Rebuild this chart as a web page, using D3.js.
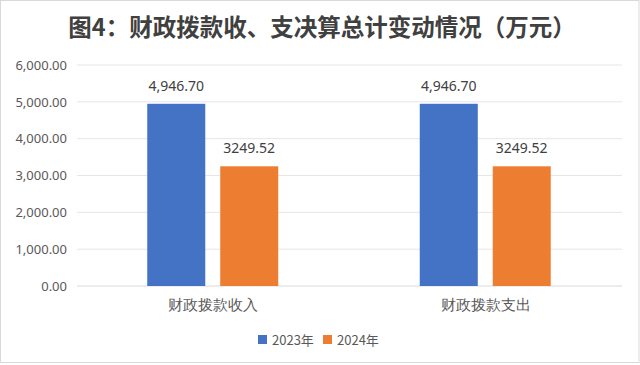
<!DOCTYPE html>
<html><head><meta charset="utf-8">
<script src="https://cdn.jsdelivr.net/npm/d3@7/dist/d3.min.js"></script>
<style>body{margin:0;background:#fff;}svg{display:block;font-family:"Noto Sans CJK SC","Microsoft YaHei",sans-serif;}</style>
</head><body>
<svg id="c" width="640" height="365"></svg>
<script>
const title = "图4：财政拨款收、支决算总计变动情况（万元）";
const categories = ["财政拨款收入", "财政拨款支出"];
const seriesNames = ["2023年", "2024年"];
const values2023 = [4946.70, 4946.70];
const values2024 = [3249.52, 3249.52];
const labels2023 = ["4,946.70", "4,946.70"];
const labels2024 = ["3249.52", "3249.52"];
const yTicks = [0, 1000, 2000, 3000, 4000, 5000, 6000];
const colors = ["#4472c4", "#ed7d31"];

const svg = d3.select("#c");
svg.append("rect").attr("x",0.5).attr("y",0.5).attr("width",638.5).attr("height",362).attr("fill","#fff").attr("stroke","#d9d9d9");

svg.append("text").attr("x",322).attr("y",36).attr("text-anchor","middle")
  .attr("font-size",23.5).attr("font-weight","bold").attr("fill","#404040").text(title);

const L=77,R=622,T=65,B=286;
const y=d3.scaleLinear().domain([0,6000]).range([B,T]);
const x0=d3.scaleBand().domain(categories).range([L,R]);
const x1=d3.scaleBand().domain(seriesNames).range([0,131]).paddingInner(0.205);

const g=svg.append("g");
yTicks.forEach(t=>{
  g.append("line").attr("x1",L).attr("x2",R).attr("y1",y(t)).attr("y2",y(t))
   .attr("stroke",t===0?"#d9d9d9":"#e6e6e6").attr("stroke-width",1);
});
const yAxis=d3.axisLeft(y).tickValues(yTicks).tickSize(0).tickPadding(10).tickFormat(d3.format(",.2f"));
const ya=svg.append("g").attr("transform",`translate(${L},0)`).call(yAxis);
ya.select(".domain").remove();
ya.selectAll("text").attr("font-size",13).attr("fill","#595959").attr("font-family","Noto Sans, sans-serif");

const data=categories.map((c,i)=>({c,vals:[{s:seriesNames[0],v:values2023[i],l:labels2023[i]},{s:seriesNames[1],v:values2024[i],l:labels2024[i]}]}));
const grp=svg.selectAll(".grp").data(data).enter().append("g")
  .attr("transform",d=>`translate(${x0(d.c)+x0.bandwidth()/2-66},0)`);
grp.selectAll("rect").data(d=>d.vals).enter().append("rect")
  .attr("x",d=>x1(d.s)).attr("width",x1.bandwidth())
  .attr("y",d=>y(d.v)).attr("height",d=>B-y(d.v))
  .attr("fill",(d,i)=>colors[i]);
grp.selectAll(".lbl").data(d=>d.vals).enter().append("text")
  .attr("x",d=>x1(d.s)+x1.bandwidth()/2).attr("y",d=>y(d.v)-13)
  .attr("text-anchor","middle").attr("font-size",14).attr("fill","#404040")
  .attr("font-family","Noto Sans, sans-serif").text(d=>d.l);

const xa=svg.append("g").attr("transform",`translate(0,${B})`).call(d3.axisBottom(x0).tickSize(0).tickPadding(13));
xa.select(".domain").remove();
xa.selectAll("text").attr("font-size",15).attr("fill","#595959");

const leg=svg.append("g");
const lx=[258,323];
seriesNames.forEach((s,i)=>{
  leg.append("rect").attr("x",lx[i]).attr("y",335).attr("width",9).attr("height",9).attr("fill",colors[i]);
  leg.append("text").attr("x",lx[i]+14).attr("y",345).attr("font-size",13).attr("fill","#595959").text(s);
});
</script>
</body></html>
